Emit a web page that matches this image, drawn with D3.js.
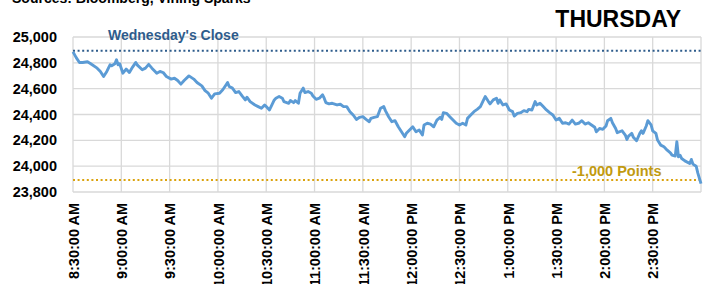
<!DOCTYPE html>
<html>
<head>
<meta charset="utf-8">
<script src="https://cdn.jsdelivr.net/npm/d3@7"></script>
<style>
  body { margin: 0; background: #fff; overflow: hidden; }
  text { font-family: "Liberation Sans", Arial, sans-serif; font-weight: bold; }
</style>
</head>
<body>
<script>
// minutes after the 8:30 open, and the Dow level at that minute
var mins = [0,2,4,6,9,11,15,17,19,21,
  23,24,26,27,28,29,31,33,35,37,
  39,40,43,45,47,49,51,52,54,56,
  58,61,63,65,67,69,72,75,77,80,
  82,84,86,88,91,93,95,96,97,99,
  101,103,105,107,108,110,113,115,117,119,
  120,122,123,125,126,128,130,131,134,135,
  137,138,140,141,143,144,146,148,149,151,
  153,155,156,157,159,161,164,166,168,170,
  172,174,176,178,180,182,184,185,187,189,
  191,193,194,196,198,200,202,204,206,207,
  209,211,213,215,217,218,220,222,224,226,
  228,229,230,232,234,236,238,240,242,244,
  245,247,249,251,253,255,256,258,259,261,
  263,264,265,267,269,271,273,274,276,278,
  280,282,283,285,287,288,290,292,294,296,
  298,300,302,304,306,308,310,312,314,316,
  318,320,322,324,325,327,329,331,332,334,
  335,337,338,341,343,344,345,347,348,350,
  352,353,354,356,357,359,360,362,363,365,
  367,369,371,372,374,375,376,377,378,380,
  383,384,385,387,388,390];

var dow = [24885,24840,24803,24803,24808,24793,24759,24733,24694,24733,
  24785,24777,24793,24824,24785,24793,24720,24752,24725,24767,
  24803,24782,24746,24759,24788,24759,24733,24720,24733,24725,
  24694,24674,24681,24663,24635,24663,24699,24674,24648,24622,
  24585,24565,24526,24560,24565,24591,24629,24648,24617,24604,
  24570,24578,24544,24513,24534,24500,24474,24461,24448,24474,
  24461,24435,24461,24513,24526,24539,24526,24500,24487,24508,
  24492,24508,24487,24565,24604,24570,24578,24565,24544,24518,
  24526,24552,24526,24492,24482,24487,24474,24479,24461,24461,
  24422,24396,24362,24378,24383,24362,24344,24370,24378,24383,
  24448,24461,24430,24383,24344,24352,24305,24266,24228,24254,
  24280,24305,24266,24280,24241,24319,24332,24326,24305,24357,
  24378,24362,24414,24409,24383,24357,24332,24319,24332,24319,
  24370,24396,24422,24440,24461,24513,24539,24500,24482,24513,
  24526,24487,24513,24474,24482,24435,24422,24388,24409,24414,
  24430,24422,24440,24435,24500,24474,24487,24461,24435,24414,
  24396,24357,24370,24332,24336,24326,24357,24326,24332,24352,
  24326,24336,24319,24301,24266,24292,24285,24311,24352,24370,
  24336,24292,24259,24274,24241,24207,24233,24254,24223,24197,
  24254,24274,24254,24311,24352,24319,24274,24254,24202,24163,
  24150,24124,24103,24085,24078,24189,24072,24085,24059,24041,
  24021,24052,24016,24000,23948,23865];

var yTicks = [23800, 24000, 24200, 24400, 24600, 24800, 25000];
var wedClose = 24893;
var dropPoints = 1000;
var openTime = new Date(2018, 1, 8, 8, 30);
var closeTime = new Date(2018, 1, 8, 15, 0);

var data = mins.map(function(m, i) {
  return { date: d3.timeMinute.offset(openTime, m), value: dow[i] };
});

// set the dimensions and margins of the graph
var margin = {top: 37, right: 11, bottom: 92, left: 73},
    width = 712 - margin.left - margin.right,
    height = 284 - margin.top - margin.bottom;

var root = d3.select("body")
  .append("svg")
    .attr("width", 712)
    .attr("height", 284);

var svg = root.append("g")
    .attr("transform", "translate(" + margin.left + "," + margin.top + ")");

var x = d3.scaleTime()
  .domain([openTime, closeTime])
  .range([0, width]);

var y = d3.scaleLinear()
  .domain([d3.min(yTicks), d3.max(yTicks)])
  .range([height, 0]);

var xTicks = d3.timeMinute.every(30).range(openTime, closeTime);
var grid = "#d9d9d9";

// gridlines
svg.append("g")
  .selectAll("line.h")
  .data(yTicks)
  .join("line")
    .attr("x1", 0).attr("x2", width)
    .attr("y1", function(d) { return y(d); })
    .attr("y2", function(d) { return y(d); })
    .attr("stroke", grid).attr("stroke-width", 1.3);

svg.append("g")
  .selectAll("line.v")
  .data(xTicks.concat([closeTime]))
  .join("line")
    .attr("x1", function(d) { return x(d); })
    .attr("x2", function(d) { return x(d); })
    .attr("y1", 0).attr("y2", height)
    .attr("stroke", grid).attr("stroke-width", 1.3);

// Y axis labels
var yAxis = svg.append("g")
  .call(d3.axisLeft(y).tickValues(yTicks).tickFormat(d3.format(",")).tickSize(0).tickPadding(16));
yAxis.select(".domain").remove();
yAxis.selectAll("text")
  .attr("fill", "#000")
  .style("font-size", "14.5px");

// X axis labels, rotated
var xAxis = svg.append("g")
  .attr("transform", "translate(0," + height + ")")
  .call(d3.axisBottom(x).tickValues(xTicks).tickFormat(d3.timeFormat("%-I:%M:%S %p")).tickSize(0));
xAxis.select(".domain").remove();
xAxis.selectAll("text")
  .attr("fill", "#000")
  .style("font-size", "14.5px")
  .style("text-anchor", "end")
  .attr("x", -11)
  .attr("y", 0)
  .attr("dy", "0.36em")
  .attr("transform", "rotate(-90)");

// reference lines
svg.append("line")
  .attr("x1", 0).attr("x2", width)
  .attr("y1", y(wedClose)).attr("y2", y(wedClose))
  .attr("stroke", "#2e5c8c").attr("stroke-width", 2)
  .attr("stroke-dasharray", "2,2.6");

svg.append("line")
  .attr("x1", 0).attr("x2", width)
  .attr("y1", y(wedClose - dropPoints)).attr("y2", y(wedClose - dropPoints))
  .attr("stroke", "#dba30e").attr("stroke-width", 2)
  .attr("stroke-dasharray", "2,2.6");

// Add the line
svg.append("path")
  .datum(data)
  .attr("fill", "none")
  .attr("stroke", "#5b9bd5")
  .attr("stroke-width", 2.9)
  .attr("stroke-linejoin", "round")
  .attr("d", d3.line()
    .x(function(d) { return x(d.date); })
    .y(function(d) { return y(d.value); })
  );

// labels
svg.append("text")
  .attr("x", 35).attr("y", y(wedClose) - 11)
  .attr("fill", "#2e5c8c")
  .style("font-size", "14px")
  .text("Wednesday's Close");

svg.append("text")
  .attr("x", 499).attr("y", y(wedClose - dropPoints) - 3.5)
  .attr("fill", "#c19a10")
  .style("font-size", "14.5px")
  .text("-1,000 Points");

root.append("text")
  .attr("x", 681).attr("y", 27)
  .attr("text-anchor", "end")
  .attr("fill", "#000")
  .style("font-size", "23px")
  .text("THURSDAY");

root.append("text")
  .attr("x", 12).attr("y", 3)
  .attr("fill", "#000")
  .style("font-size", "14px")
  .text("Sources: Bloomberg, Vining Sparks");
</script>
</body>
</html>
